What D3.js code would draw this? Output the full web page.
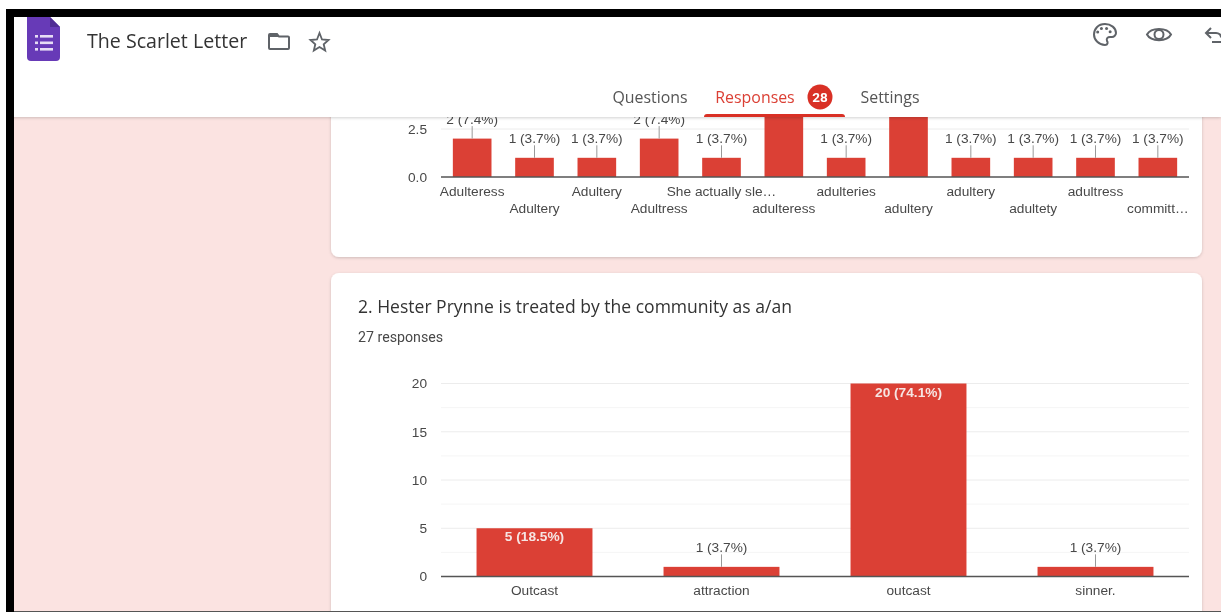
<!DOCTYPE html>
<html>
<head>
<meta charset="utf-8">
<script src="https://cdn.jsdelivr.net/npm/d3@7"></script>
<style>
html, body { margin: 0; padding: 0; background: #fff; overflow: hidden; }
svg { display: block; filter: blur(0.45px); }
text { font-family: "Liberation Sans", Arial, sans-serif; }
.axis path, .axis line { display: none; }
.axis text { font-family: "Liberation Sans", Arial, sans-serif; font-size: 13.7px; fill: #484848; }
</style>
</head>
<body>
<svg></svg>
<script>
const svgWidth = 1221
const svgHeight = 612

// question 1: the two tall bars run up behind the header, their tops are estimates
const categories1 = ["Adulteress","Adultery","Adultery","Adultress","She actually sle…","adulteress","adulteries","adultery","adultery","adultety","adultress","committ…"]
const values1 = [2,1,1,2,1,5,1,10,1,1,1,1]
const yTicks1 = [0,2.5]

// question 2
const categories2 = ["Outcast","attraction","outcast","sinner."]
const values2 = [5,1,20,1]
const yTicks2 = [0,5,10,15,20]
const minorTicks2 = [2.5,7.5,12.5,17.5]

const totalResponses = 27
const tabs = ["Questions","Responses","Settings"]
const tabX = [650,755,890]

const red = "#db4035"
const svg = d3.select("svg").attr("width",svgWidth).attr("height",svgHeight)

svg.append("rect").attr("width",svgWidth).attr("height",svgHeight).attr("fill","#fbe3e1")

// cards
const shadow = svg.append("defs").append("filter").attr("id","soft").attr("x","-5%").attr("y","-20%").attr("width","110%").attr("height","140%")
shadow.append("feDropShadow").attr("dx",0).attr("dy",1).attr("stdDeviation",1.5).attr("flood-color","#000").attr("flood-opacity",0.18)

svg.append("rect").attr("x",331).attr("y",60).attr("width",871).attr("height",197).attr("rx",8).attr("fill","#fff").attr("filter","url(#soft)")
svg.append("rect").attr("x",331).attr("y",273).attr("width",871).attr("height",360).attr("rx",8).attr("fill","#fff").attr("filter","url(#soft)")

function drawChart(cfg){
    const g = svg.append("g")
    const xScale = d3.scaleBand()
    .domain(d3.range(cfg.categories.length))
    .range([441,1189])
    .paddingInner(0.38)
    .paddingOuter(0.19)
    const yScale = d3.scaleLinear().domain(cfg.yDomain).range(cfg.yRange)

    g.selectAll(".minor").data(cfg.minor).enter().append("line")
    .attr("x1",441).attr("x2",1189)
    .attr("y1",(d)=>{return yScale(d)}).attr("y2",(d)=>{return yScale(d)})
    .attr("stroke","#f5f5f5")
    g.selectAll(".grid").data(cfg.yTicks.filter((d)=>{return d>0})).enter().append("line")
    .attr("x1",441).attr("x2",1189)
    .attr("y1",(d)=>{return yScale(d)}).attr("y2",(d)=>{return yScale(d)})
    .attr("stroke","#ececec")

    g.selectAll(".bar").data(cfg.values).enter().append("rect")
    .attr("x",(d,i)=>{return xScale(i)})
    .attr("y",(d)=>{return yScale(d)})
    .attr("width",xScale.bandwidth())
    .attr("height",(d)=>{return yScale(0)-yScale(d)})
    .attr("fill",red)

    // baseline
    g.append("line").attr("x1",441).attr("x2",1189)
    .attr("y1",yScale(0)).attr("y2",yScale(0)).attr("stroke","#555").attr("stroke-width",1.4)

    g.append("g").attr("class","axis")
    .attr("transform","translate(441,0)")
    .call(d3.axisLeft(yScale).tickValues(cfg.yTicks).tickSize(0).tickPadding(14).tickFormat(d3.format(cfg.yFormat)))

    const xAxis = g.append("g").attr("class","axis")
    .attr("transform",`translate(0,${yScale(0)})`)
    .call(d3.axisBottom(xScale).tickSize(0).tickFormat((i)=>{return cfg.categories[i]}))
    xAxis.selectAll("text")
    .attr("y",(i)=>{return cfg.stagger && i%2==1 ? 26 : 9})

    // value labels: inside the bar when it is tall enough, else above with a leader
    cfg.values.forEach((v,i)=>{
        if (v>cfg.labelMax) return // label would sit behind the header
        const cx = xScale(i)+xScale.bandwidth()/2
        const top = yScale(v)
        const inside = yScale(0)-top > 45
        const label = v+" ("+(v/totalResponses*100).toFixed(1)+"%)"
        if (!inside){
            g.append("line").attr("x1",cx).attr("x2",cx)
            .attr("y1",top).attr("y2",top-12.5).attr("stroke","#999")
        }
        g.append("text").attr("x",cx).attr("y",inside ? top+13 : top-15)
        .attr("text-anchor","middle")
        .attr("font-size",13.7)
        .attr("font-weight",inside ? 700 : 400)
        .attr("fill",inside ? "#f6e4e2" : "#484848")
        .text(label)
    })
}

drawChart({categories:categories1,values:values1,yTicks:yTicks1,minor:[],yDomain:[0,2.5],yRange:[177,129],yFormat:".1f",stagger:true,labelMax:2.5})

svg.append("text").attr("x",358).attr("y",313).attr("font-size",17.55).attr("fill","#333")
.style("font-family","Open Sans").text("2. Hester Prynne is treated by the community as a/an")
svg.append("text").attr("x",358).attr("y",342).attr("font-size",14.2).attr("fill","#484848")
.style("font-family","Roboto").text(totalResponses+" responses")

drawChart({categories:categories2,values:values2,yTicks:yTicks2,minor:minorTicks2,yDomain:[0,20],yRange:[576.5,383.5],yFormat:"d",stagger:false,labelMax:20})

// header over the charts
const header = svg.append("g")
header.append("rect").attr("x",0).attr("y",0).attr("width",svgWidth).attr("height",117).attr("fill","#fff").attr("filter","url(#soft)")

// forms icon
header.append("path").attr("d","M27 17 H50 L60 27 V57 Q60 61 56 61 H31 Q27 61 27 57 Z").attr("fill","#673ab7")
header.append("path").attr("d","M50 17 L60 27 H50 Z").attr("fill","#4f2c94")
d3.range(3).forEach((i)=>{
    const y = 35+i*6.5
    header.append("rect").attr("x",35).attr("y",y).attr("width",3).attr("height",2.6).attr("fill","#e6dcf5")
    header.append("rect").attr("x",40).attr("y",y).attr("width",13).attr("height",2.6).attr("fill","#e6dcf5")
})

header.append("text").attr("x",87).attr("y",48).attr("font-size",19.6).attr("fill","#333")
.style("font-family","Open Sans").text("The Scarlet Letter")

// folder, star, palette, eye, undo
const iconStroke = {fill:"none",stroke:"#5f6368","stroke-width":2}
function icon(d){
    const p = header.append("path").attr("d",d)
    Object.keys(iconStroke).forEach((k)=>{p.attr(k,iconStroke[k])})
    return p
}
icon("M269 35 Q269 34 270 34 H277 L279 36.5 H288 Q289 36.5 289 37.5 V48 Q289 49 288 49 H270 Q269 49 269 48 Z")
header.append("rect").attr("x",269).attr("y",34).attr("width",9).attr("height",3).attr("fill","#5f6368")
icon("M319.5 33 L322 39.5 L328.5 40 L323.7 44.2 L325.2 50.5 L319.5 47 L313.8 50.5 L315.3 44.2 L310.5 40 L317 39.5 Z").attr("stroke-width",1.8)
icon("M1105 24 C1098 24 1094 29 1094 34.5 C1094 40 1099 45 1105 45 C1108 45 1108 42 1107 41 C1106 38 1108 37 1110 37 H1112 C1114 37 1116 35 1116 33 C1116 28 1111 24 1105 24 Z")
d3.range(4).forEach((i)=>{
    const a = [-2.7,-1.95,-1.2,-0.5][i]
    header.append("circle").attr("cx",1105+7*Math.cos(a)-1).attr("cy",35+7*Math.sin(a)).attr("r",1.5).attr("fill","#5f6368")
})
icon("M1147 34.5 C1151 27 1167 27 1171 34.5 C1167 42 1151 42 1147 34.5 Z")
icon("M1159 30 A4.5 4.5 0 1 0 1159 39 A4.5 4.5 0 1 0 1159 30 Z")
icon("M1211 28 L1206 33 L1211 38 M1206 33 H1216 C1219 33 1221 35 1221 37.5 M1221 42 H1212")

// tabs
header.selectAll(".tab").data(tabs).enter().append("text")
.attr("x",(d,i)=>{return tabX[i]}).attr("y",103)
.attr("text-anchor","middle").attr("font-size",15.9)
.attr("fill",(d)=>{return d=="Responses" ? "#db4035" : "#555"})
.style("font-family","Open Sans").text((d)=>{return d})
header.append("circle").attr("cx",820).attr("cy",97).attr("r",12.5).attr("fill","#d93025")
header.append("text").attr("x",820).attr("y",102).attr("text-anchor","middle").attr("font-size",13.5)
.attr("font-weight",700).attr("fill","#fff").style("font-family","Roboto").text("28")
header.append("path").attr("d","M704 117 Q704 114 707 114 H842 Q845 114 845 117 Z").attr("fill","#d93025")

// black frame from the screenshot
svg.append("rect").attr("x",0).attr("y",0).attr("width",svgWidth).attr("height",9).attr("fill","#fff")
svg.append("rect").attr("x",0).attr("y",0).attr("width",6).attr("height",svgHeight).attr("fill","#fff")
svg.append("rect").attr("x",6).attr("y",9).attr("width",svgWidth-6).attr("height",8).attr("fill","#000")
svg.append("rect").attr("x",6).attr("y",9).attr("width",8).attr("height",svgHeight-9).attr("fill","#000")
svg.append("rect").attr("x",14).attr("y",611).attr("width",svgWidth-14).attr("height",1).attr("fill","#555")
</script>
</body>
</html>
